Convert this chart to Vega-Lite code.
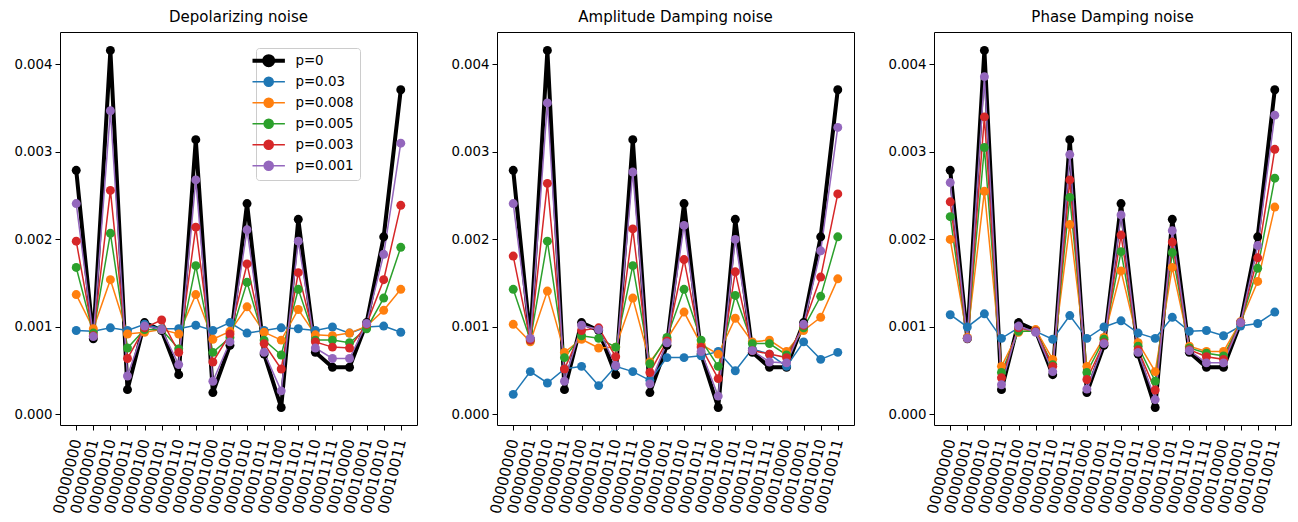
{
  "$schema": "https://vega.github.io/schema/vega-lite/v6.json",
  "background": "white",
  "padding": {"left": 13, "top": 9, "right": 5, "bottom": 0},
  "bounds": "flush",
  "spacing": 80,
  "config": {
    "font": "DejaVu Sans",
    "view": {"stroke": "black", "strokeWidth": 1},
    "axis": {"grid": false, "domain": false, "tickColor": "black", "tickSize": 5, "labelColor": "black", "labelFont": "DejaVu Sans"},
    "title": {"fontSize": 15, "fontWeight": "normal", "font": "DejaVu Sans", "offset": 7, "color": "black"}
  },
  "data": {"values": [
    {"n":"D","s":"00000000","a":0.00279,"b":0.00096,"c":0.00137,"d":0.00168,"e":0.00198,"f":0.00241},
    {"n":"D","s":"00000001","a":0.000864,"b":0.00095,"c":0.00098,"d":0.00093,"e":0.0009,"f":0.00089},
    {"n":"D","s":"00000010","a":0.00416,"b":0.00099,"c":0.00154,"d":0.00207,"e":0.00256,"f":0.00347},
    {"n":"D","s":"00000011","a":0.000284,"b":0.00096,"c":0.00092,"d":0.00076,"e":0.00064,"f":0.00044},
    {"n":"D","s":"00000100","a":0.00105,"b":0.00103,"c":0.00094,"d":0.00097,"e":0.00099,"f":0.00101},
    {"n":"D","s":"00000101","a":0.00096,"b":0.00098,"c":0.00097,"d":0.00097,"e":0.00108,"f":0.00097},
    {"n":"D","s":"00000110","a":0.000455,"b":0.00098,"c":0.00092,"d":0.00075,"e":0.00071,"f":0.00057},
    {"n":"D","s":"00000111","a":0.00314,"b":0.00102,"c":0.00137,"d":0.0017,"e":0.00214,"f":0.00268},
    {"n":"D","s":"00001000","a":0.00025,"b":0.00096,"c":0.00086,"d":0.00071,"e":0.0006,"f":0.00038},
    {"n":"D","s":"00001001","a":0.00079,"b":0.00105,"c":0.00095,"d":0.00088,"e":0.00092,"f":0.00083},
    {"n":"D","s":"00001010","a":0.00241,"b":0.00093,"c":0.00123,"d":0.00151,"e":0.00172,"f":0.00211},
    {"n":"D","s":"00001011","a":0.00069,"b":0.00096,"c":0.00094,"d":0.00085,"e":0.00081,"f":0.00071},
    {"n":"D","s":"00001100","a":0.00008,"b":0.00099,"c":0.00085,"d":0.00068,"e":0.00052,"f":0.00027},
    {"n":"D","s":"00001101","a":0.00223,"b":0.00098,"c":0.0012,"d":0.00143,"e":0.00162,"f":0.00198},
    {"n":"D","s":"00001110","a":0.00071,"b":0.00096,"c":0.00091,"d":0.00085,"e":0.00083,"f":0.00076},
    {"n":"D","s":"00001111","a":0.00054,"b":0.001,"c":0.0009,"d":0.00085,"e":0.00077,"f":0.00064},
    {"n":"D","s":"00010000","a":0.00054,"b":0.00093,"c":0.00093,"d":0.00082,"e":0.00076,"f":0.00064},
    {"n":"D","s":"00010001","a":0.00105,"b":0.001,"c":0.00101,"d":0.00098,"e":0.00103,"f":0.00104},
    {"n":"D","s":"00010010","a":0.00203,"b":0.00101,"c":0.00119,"d":0.00133,"e":0.00154,"f":0.00183},
    {"n":"D","s":"00010011","a":0.00371,"b":0.00094,"c":0.00143,"d":0.00191,"e":0.00239,"f":0.0031},
    {"n":"A","s":"00000000","a":0.00279,"b":0.00023,"c":0.00103,"d":0.00143,"e":0.00181,"f":0.00241},
    {"n":"A","s":"00000001","a":0.000864,"b":0.00049,"c":0.00083,"d":0.00085,"e":0.00085,"f":0.00087},
    {"n":"A","s":"00000010","a":0.00416,"b":0.00036,"c":0.00141,"d":0.00198,"e":0.00264,"f":0.00356},
    {"n":"A","s":"00000011","a":0.000284,"b":0.00052,"c":0.00071,"d":0.00065,"e":0.00052,"f":0.00038},
    {"n":"A","s":"00000100","a":0.00105,"b":0.00055,"c":0.00086,"d":0.0009,"e":0.00096,"f":0.00102},
    {"n":"A","s":"00000101","a":0.00096,"b":0.00033,"c":0.00076,"d":0.00087,"e":0.00099,"f":0.00097},
    {"n":"A","s":"00000110","a":0.000455,"b":0.00055,"c":0.00077,"d":0.00077,"e":0.00066,"f":0.00056},
    {"n":"A","s":"00000111","a":0.00314,"b":0.00049,"c":0.00133,"d":0.0017,"e":0.00212,"f":0.00277},
    {"n":"A","s":"00001000","a":0.00025,"b":0.00039,"c":0.0006,"d":0.00058,"e":0.00048,"f":0.00035},
    {"n":"A","s":"00001001","a":0.00079,"b":0.00065,"c":0.00086,"d":0.00088,"e":0.00084,"f":0.00082},
    {"n":"A","s":"00001010","a":0.00241,"b":0.00065,"c":0.00117,"d":0.00143,"e":0.00177,"f":0.00216},
    {"n":"A","s":"00001011","a":0.00069,"b":0.00067,"c":0.0008,"d":0.00085,"e":0.00077,"f":0.00072},
    {"n":"A","s":"00001100","a":0.00008,"b":0.00072,"c":0.00069,"d":0.00055,"e":0.00041,"f":0.00021},
    {"n":"A","s":"00001101","a":0.00223,"b":0.0005,"c":0.0011,"d":0.00136,"e":0.00163,"f":0.002},
    {"n":"A","s":"00001110","a":0.00071,"b":0.00075,"c":0.00083,"d":0.00081,"e":0.00073,"f":0.00073},
    {"n":"A","s":"00001111","a":0.00054,"b":0.00069,"c":0.00085,"d":0.00081,"e":0.00069,"f":0.0006},
    {"n":"A","s":"00010000","a":0.00054,"b":0.00055,"c":0.00072,"d":0.00068,"e":0.00065,"f":0.00059},
    {"n":"A","s":"00010001","a":0.00105,"b":0.00083,"c":0.00096,"d":0.00099,"e":0.00102,"f":0.00103},
    {"n":"A","s":"00010010","a":0.00203,"b":0.00063,"c":0.00111,"d":0.00135,"e":0.00157,"f":0.00187},
    {"n":"A","s":"00010011","a":0.00371,"b":0.00071,"c":0.00155,"d":0.00203,"e":0.00252,"f":0.00328},
    {"n":"P","s":"00000000","a":0.00279,"b":0.00114,"c":0.002,"d":0.00226,"e":0.00243,"f":0.00265},
    {"n":"P","s":"00000001","a":0.000864,"b":0.001,"c":0.00088,"d":0.00087,"e":0.00087,"f":0.00087},
    {"n":"P","s":"00000010","a":0.00416,"b":0.00115,"c":0.00255,"d":0.00305,"e":0.0034,"f":0.00386},
    {"n":"P","s":"00000011","a":0.000284,"b":0.00087,"c":0.00055,"d":0.00048,"e":0.00042,"f":0.00034},
    {"n":"P","s":"00000100","a":0.00105,"b":0.00099,"c":0.00094,"d":0.00095,"e":0.00099,"f":0.00101},
    {"n":"P","s":"00000101","a":0.00096,"b":0.00095,"c":0.00097,"d":0.00095,"e":0.00095,"f":0.00094},
    {"n":"P","s":"00000110","a":0.000455,"b":0.00086,"c":0.00063,"d":0.00057,"e":0.00055,"f":0.00049},
    {"n":"P","s":"00000111","a":0.00314,"b":0.00113,"c":0.00217,"d":0.00248,"e":0.00268,"f":0.00297},
    {"n":"P","s":"00001000","a":0.00025,"b":0.00087,"c":0.00055,"d":0.00048,"e":0.0004,"f":0.00029},
    {"n":"P","s":"00001001","a":0.00079,"b":0.001,"c":0.00088,"d":0.00086,"e":0.00082,"f":0.00081},
    {"n":"P","s":"00001010","a":0.00241,"b":0.00107,"c":0.00164,"d":0.00186,"e":0.00205,"f":0.00228},
    {"n":"P","s":"00001011","a":0.00069,"b":0.00093,"c":0.00082,"d":0.00078,"e":0.00074,"f":0.00071},
    {"n":"P","s":"00001100","a":0.00008,"b":0.00087,"c":0.00049,"d":0.00038,"e":0.00028,"f":0.00017},
    {"n":"P","s":"00001101","a":0.00223,"b":0.00111,"c":0.00168,"d":0.00185,"e":0.00197,"f":0.0021},
    {"n":"P","s":"00001110","a":0.00071,"b":0.00095,"c":0.00078,"d":0.00076,"e":0.00074,"f":0.00073},
    {"n":"P","s":"00001111","a":0.00054,"b":0.00096,"c":0.00072,"d":0.0007,"e":0.00066,"f":0.00059},
    {"n":"P","s":"00010000","a":0.00054,"b":0.0009,"c":0.00072,"d":0.00067,"e":0.00063,"f":0.00059},
    {"n":"P","s":"00010001","a":0.00105,"b":0.00101,"c":0.00106,"d":0.00105,"e":0.00105,"f":0.00105},
    {"n":"P","s":"00010010","a":0.00203,"b":0.00104,"c":0.00152,"d":0.00167,"e":0.00179,"f":0.00193},
    {"n":"P","s":"00010011","a":0.00371,"b":0.00117,"c":0.00237,"d":0.0027,"e":0.00303,"f":0.00342}
  ]},
  "transform": [{"fold": ["a", "b", "c", "d", "e", "f"], "as": ["k", "v"]}],
  "resolve": {"scale": {"color": "independent"}, "legend": {"color": "independent"}},
  "hconcat": [
    {
      "title": "Depolarizing noise",
      "width": 357, "height": 393,
      "transform": [{"filter": {"field": "n", "equal": "D"}}],
      "encoding": {
        "x": {"field": "s", "type": "ordinal", "scale": {"type": "point", "padding": 0.95}, "axis": {"title": null, "labelAngle": -76, "labelFontSize": 15, "labelPadding": 9}},
        "y": {"field": "v", "type": "quantitative", "scale": {"domain": [-0.00012, 0.00437], "nice": false, "zero": false}, "axis": {"title": null, "values": [0, 0.001, 0.002, 0.003, 0.004], "format": ".3f", "labelFontSize": 13.3, "labelPadding": 3}},
        "color": {"field": "k", "type": "nominal", "scale": {"domain": ["a", "b", "c", "d", "e", "f"], "range": ["#000000", "#1f77b4", "#ff7f0e", "#2ca02c", "#d62728", "#9467bd"]},
          "legend": {"orient": "none", "legendX": 196, "legendY": 16, "title": null,
            "labelExpr": "{'a':'p=0','b':'p=0.03','c':'p=0.008','d':'p=0.005','e':'p=0.003','f':'p=0.001'}[datum.label]",
            "labelFontSize": 13.4, "labelColor": "black", "labelOffset": 20,
            "symbolType": "M-1.35,0L1.35,0M-0.38,0A0.38,0.38,0,1,1,0.38,0A0.38,0.38,0,1,1,-0.38,0Z",
            "symbolSize": 576, "symbolStrokeWidth": 1.5, "strokeColor": "#cccccc", "fillColor": "white", "padding": 6, "cornerRadius": 3, "rowPadding": 0, "gridAlign": "all",
            "encode": {"symbols": {"update": {"strokeWidth": {"signal": "datum.value === 'a' ? 4 : 1.5"}}}}}}
      },
      "layer": [
        {"mark": {"type": "line"}, "encoding": {"strokeWidth": {"condition": {"test": "datum.k === 'a'", "value": 4}, "value": 1.5}}},
        {"mark": {"type": "point", "filled": true, "opacity": 1, "size": 80}}
      ]
    },
    {
      "title": "Amplitude Damping noise",
      "width": 357, "height": 393,
      "transform": [{"filter": {"field": "n", "equal": "A"}}],
      "encoding": {
        "x": {"field": "s", "type": "ordinal", "scale": {"type": "point", "padding": 0.95}, "axis": {"title": null, "labelAngle": -76, "labelFontSize": 15, "labelPadding": 9}},
        "y": {"field": "v", "type": "quantitative", "scale": {"domain": [-0.00012, 0.00437], "nice": false, "zero": false}, "axis": {"title": null, "values": [0, 0.001, 0.002, 0.003, 0.004], "format": ".3f", "labelFontSize": 13.3, "labelPadding": 3}},
        "color": {"field": "k", "type": "nominal", "scale": {"domain": ["a", "b", "c", "d", "e", "f"], "range": ["#000000", "#1f77b4", "#ff7f0e", "#2ca02c", "#d62728", "#9467bd"]}, "legend": null}
      },
      "layer": [
        {"mark": {"type": "line"}, "encoding": {"strokeWidth": {"condition": {"test": "datum.k === 'a'", "value": 4}, "value": 1.5}}},
        {"mark": {"type": "point", "filled": true, "opacity": 1, "size": 80}}
      ]
    },
    {
      "title": "Phase Damping noise",
      "width": 357, "height": 393,
      "transform": [{"filter": {"field": "n", "equal": "P"}}],
      "encoding": {
        "x": {"field": "s", "type": "ordinal", "scale": {"type": "point", "padding": 0.95}, "axis": {"title": null, "labelAngle": -76, "labelFontSize": 15, "labelPadding": 9}},
        "y": {"field": "v", "type": "quantitative", "scale": {"domain": [-0.00012, 0.00437], "nice": false, "zero": false}, "axis": {"title": null, "values": [0, 0.001, 0.002, 0.003, 0.004], "format": ".3f", "labelFontSize": 13.3, "labelPadding": 3}},
        "color": {"field": "k", "type": "nominal", "scale": {"domain": ["a", "b", "c", "d", "e", "f"], "range": ["#000000", "#1f77b4", "#ff7f0e", "#2ca02c", "#d62728", "#9467bd"]}, "legend": null}
      },
      "layer": [
        {"mark": {"type": "line"}, "encoding": {"strokeWidth": {"condition": {"test": "datum.k === 'a'", "value": 4}, "value": 1.5}}},
        {"mark": {"type": "point", "filled": true, "opacity": 1, "size": 80}}
      ]
    }
  ]
}
